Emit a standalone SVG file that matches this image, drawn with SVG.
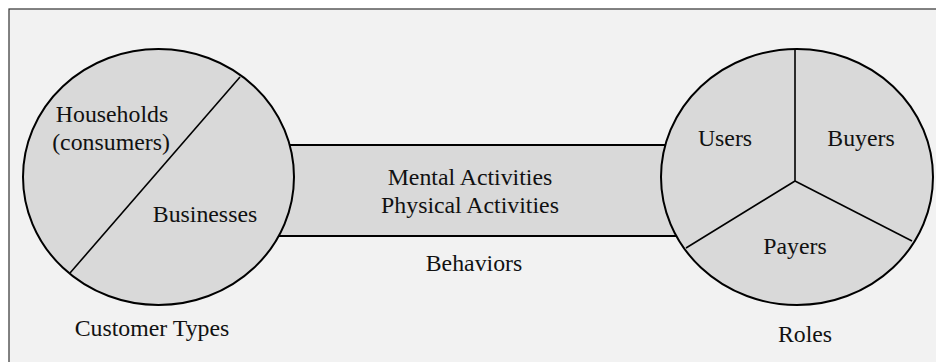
<svg xmlns="http://www.w3.org/2000/svg" width="936" height="362" viewBox="0 0 936 362">
<style>
.shape{fill:#d9d9d9;stroke:#000;stroke-width:2}
.div{stroke:#000;stroke-width:1.6;fill:none}
text{font-family:"Liberation Serif","Times New Roman",serif;font-size:23.8px;fill:#111;text-anchor:middle}
</style>
<rect x="0" y="0" width="936" height="362" fill="#ffffff"/>
<rect x="9" y="9" width="940" height="370" fill="#f2f2f2" stroke="#333" stroke-width="1.2"/>
<g id="connectors">
<rect id="behaviors-band" class="shape" x="250" y="145" width="450" height="91"/>
</g>
<g id="behaviors">
<text x="470" y="185">Mental Activities</text>
<text x="470" y="213">Physical Activities</text>
<text x="474" y="271">Behaviors</text>
</g>
<g id="customer-types">
<ellipse class="shape" cx="158.5" cy="177" rx="135.5" ry="128"/>
<line class="div" x1="240" y1="77" x2="70" y2="273"/>
<text x="112" y="122">Households</text>
<text x="111" y="150">(consumers)</text>
<text x="205" y="222">Businesses</text>
<text x="152" y="336">Customer Types</text>
</g>
<g id="roles">
<ellipse class="shape" cx="797" cy="177" rx="136" ry="128"/>
<line class="div" x1="795" y1="49" x2="795" y2="181"/>
<line class="div" x1="795" y1="181" x2="686" y2="248"/>
<line class="div" x1="795" y1="181" x2="912" y2="241"/>
<text x="725" y="146">Users</text>
<text x="861" y="146">Buyers</text>
<text x="795" y="254">Payers</text>
<text x="805" y="342">Roles</text>
</g>
</svg>
